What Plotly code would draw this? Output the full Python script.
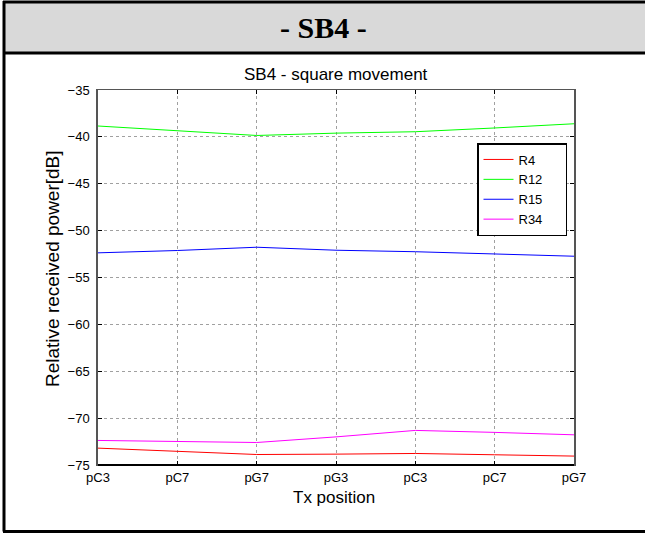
import plotly.graph_objects as go

tick_labels = ["pC3", "pC7", "pG7", "pG3", "pC3", "pC7", "pG7"]
positions = [0, 1, 2, 3, 4, 5, 6]
series_names = ["R4", "R12", "R15", "R34"]
r4 = [-73.2, -73.52, -73.88, -73.84, -73.77, -73.91, -74.05]
r12 = [-38.84, -39.33, -39.85, -39.6, -39.45, -39.05, -38.6]
r15 = [-52.37, -52.12, -51.77, -52.09, -52.25, -52.48, -52.73]
r34 = [-72.38, -72.49, -72.6, -72.0, -71.31, -71.52, -71.78]
colors = ["#ff0000", "#00ff00", "#0000ff", "#ff00ff"]

W, H = 645, 533
L, R, T, B = 98, 71, 90, 68
PW, PH = W - L - R, H - T - B

def px(x):
    return (x - L) / PW

def py(y):
    return (H - B - y) / PH

fig = go.Figure()
for name, vals, c in zip(series_names, [r4, r12, r15, r34], colors):
    fig.add_trace(go.Scatter(x=positions, y=vals, mode="lines",
                             name=name + "&nbsp;" * 5,
                             line=dict(color=c, width=1)))

font = "Liberation Sans, Arial, sans-serif"
fig.update_layout(
    width=W, height=H, autosize=False,
    margin=dict(l=L, r=R, t=T, b=B),
    paper_bgcolor="white", plot_bgcolor="white",
    font=dict(family=font, size=13, color="black"),
    showlegend=True,
    legend=dict(x=px(567), y=py(143), xanchor="right", yanchor="top",
                bgcolor="white", bordercolor="black", borderwidth=1.5,
                font=dict(size=13, family=font), tracegroupgap=0),
    xaxis=dict(range=[0, 6], tickvals=positions, ticktext=tick_labels,
               showgrid=True, gridcolor="#a0a0a0", griddash="dot", gridwidth=1,
               showline=True, linecolor="#555", linewidth=1, mirror="ticks",
               ticks="inside", ticklen=4, tickcolor="black", zeroline=False,
               tickfont=dict(size=13, family=font)),
    yaxis=dict(range=[-75, -35], dtick=5, tick0=-75,
               showgrid=True, gridcolor="#a0a0a0", griddash="dot", gridwidth=1,
               showline=True, linecolor="#555", linewidth=1.5, mirror="ticks",
               ticks="inside", ticklen=4, tickcolor="black", zeroline=False,
               ticklabelstandoff=4,
               tickfont=dict(size=13, family=font)),
)

shapes = [
    # header fill
    dict(type="rect", xref="paper", yref="paper", x0=px(4), x1=px(645), y0=py(53), y1=py(2),
         fillcolor="#d9d9d9", line=dict(width=0), layer="above"),
    # header top and bottom rules
    dict(type="line", xref="paper", yref="paper", x0=px(3), x1=px(645), y0=py(2), y1=py(2),
         line=dict(color="black", width=3)),
    dict(type="line", xref="paper", yref="paper", x0=px(3), x1=px(645), y0=py(53), y1=py(53),
         line=dict(color="black", width=3)),
    # outer border left
    dict(type="line", xref="paper", yref="paper", x0=px(4), x1=px(4), y0=py(1), y1=py(531.5),
         line=dict(color="black", width=3)),
    # outer border bottom
    dict(type="line", xref="paper", yref="paper", x0=px(3), x1=px(645), y0=py(531.5), y1=py(531.5),
         line=dict(color="black", width=3)),
    # bottom axis black
    dict(type="line", xref="paper", yref="paper", x0=0, x1=1, y0=0, y1=0,
         line=dict(color="black", width=2)),
]
fig.update_layout(shapes=shapes)

annotations = [
    dict(text="<b>- SB4 -</b>", xref="paper", yref="paper", x=px(323), y=py(27),
         showarrow=False, xanchor="center", yanchor="middle",
         font=dict(family="Liberation Serif, Times New Roman, serif", size=30, color="black")),
    dict(text="SB4 - square movement", xref="paper", yref="paper", x=px(336), y=py(74),
         showarrow=False, xanchor="center", yanchor="middle", font=dict(size=17, family=font)),
    dict(text="Tx position", xref="paper", yref="paper", x=px(334), y=py(497),
         showarrow=False, xanchor="center", yanchor="middle", font=dict(size=17, family=font)),
    dict(text="Relative received power[dB]", xref="paper", yref="paper", x=px(52), y=py(269),
         showarrow=False, xanchor="center", yanchor="middle", textangle=-90,
         font=dict(size=19, family=font)),
]
fig.update_layout(annotations=annotations)

fig.write_html("out.html", config={"displayModeBar": False},
               post_script="document.body.style.margin='0';document.body.style.overflow='hidden';"
                           "document.documentElement.style.overflow='hidden';")
